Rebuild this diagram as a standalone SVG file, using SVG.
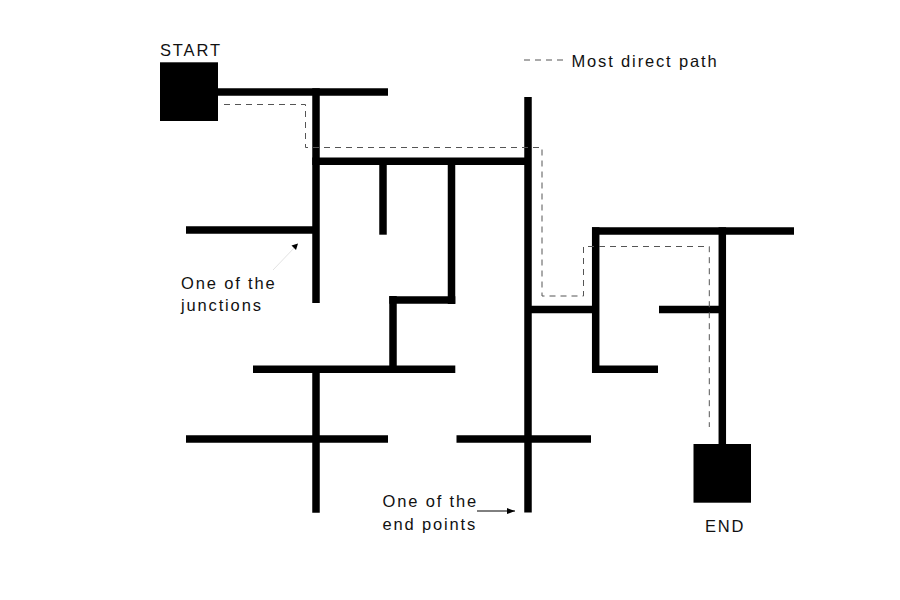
<svg xmlns="http://www.w3.org/2000/svg" width="900" height="600" viewBox="0 0 900 600">
<style>
.wall{stroke:#000;stroke-width:7.5;fill:none;stroke-linecap:butt}
.box{fill:#000}
.path{stroke:#555;stroke-width:1;fill:none;stroke-dasharray:6 5}
.lbl{font-family:"Liberation Sans",Arial,sans-serif;font-size:16.5px;letter-spacing:1.85px;fill:#111}
.arr{stroke:#000;stroke-width:1;fill:none}
.arrg{stroke:#e2e2e2;stroke-width:1;fill:none}
</style>
<defs>
<marker id="ah" viewBox="0 0 8 6" refX="8" refY="3" markerWidth="8" markerHeight="6" markerUnits="userSpaceOnUse" orient="auto">
<path d="M0,0 L8,3 L0,6 z" fill="#000"/>
</marker>
</defs>
<rect width="900" height="600" fill="#fff"/>
<g id="connectors">
<line class="wall" x1="217" y1="92" x2="388" y2="92"/>
<line class="wall" x1="316" y1="88.3" x2="316" y2="303"/>
<line class="wall" x1="312.3" y1="161.3" x2="528" y2="161.3"/>
<line class="wall" x1="383" y1="161" x2="383" y2="234.7"/>
<line class="wall" x1="451.5" y1="161" x2="451.5" y2="304"/>
<line class="wall" x1="186" y1="230" x2="316" y2="230"/>
<line class="wall" x1="528" y1="97" x2="528" y2="512.5"/>
<line class="wall" x1="389.3" y1="300" x2="455.3" y2="300"/>
<line class="wall" x1="393" y1="296" x2="393" y2="369"/>
<line class="wall" x1="253" y1="369.3" x2="455.3" y2="369.3"/>
<line class="wall" x1="316" y1="369" x2="316" y2="512.7"/>
<line class="wall" x1="186" y1="439" x2="388" y2="439"/>
<line class="wall" x1="456.5" y1="439" x2="591" y2="439"/>
<line class="wall" x1="528" y1="309.5" x2="596" y2="309.5"/>
<line class="wall" x1="595.7" y1="227.3" x2="595.7" y2="373"/>
<line class="wall" x1="592" y1="231" x2="794" y2="231"/>
<line class="wall" x1="592" y1="369.3" x2="658" y2="369.3"/>
<line class="wall" x1="659" y1="309.5" x2="726" y2="309.5"/>
<line class="wall" x1="722.3" y1="227.3" x2="722.3" y2="445"/>
<path class="path" d="M224,104.5 H305.5 V147.5 H542 V296 H583.5 V246.5 H709.3 V427"/>
<line class="path" x1="524" y1="60" x2="568" y2="60"/>
<line class="arrg" x1="273" y1="270" x2="296" y2="246"/>
<line class="arr" x1="477" y1="511" x2="515" y2="511" marker-end="url(#ah)"/>
<path d="M298,243.5 L291.5,245.5 L296,250 z" fill="#000"/>
</g>
<g id="start">
<rect class="box" x="160" y="62.3" width="58" height="58.7"/>
<text class="lbl" x="160" y="55.7">START</text>
</g>
<g id="end">
<rect class="box" x="693.5" y="444" width="57.5" height="58.7"/>
<text class="lbl" x="705" y="532">END</text>
</g>
<g id="legend">
<text class="lbl" x="571.5" y="66.5">Most direct path</text>
</g>
<g id="junction-note">
<text class="lbl" x="181" y="288.5">One of the</text>
<text class="lbl" x="181" y="311">junctions</text>
</g>
<g id="endpoint-note">
<text class="lbl" x="382.5" y="507">One of the</text>
<text class="lbl" x="382.5" y="529.5">end points</text>
</g>
</svg>
